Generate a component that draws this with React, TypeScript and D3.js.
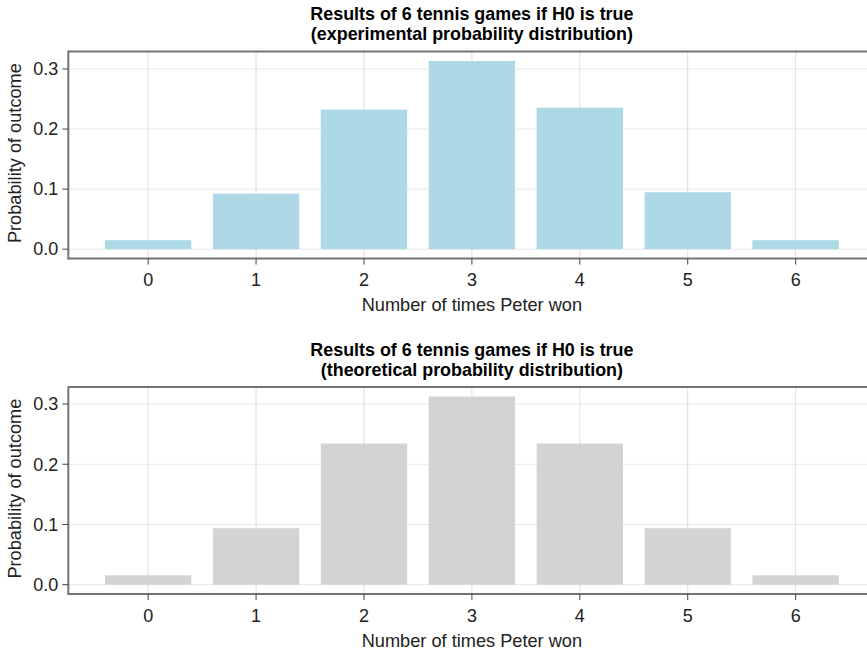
import React from 'react';
import * as d3 from 'd3';

// outcome categories (number of games won)
const outcomes = [0, 1, 2, 3, 4, 5, 6];
// experimental probabilities
const experimental = [0.015, 0.0925, 0.2323, 0.3133, 0.2356, 0.0948, 0.015];
// theoretical binomial(6, 0.5) probabilities
const theoretical = [0.015625, 0.09375, 0.234375, 0.3125, 0.234375, 0.09375, 0.015625];
const yTicks = [0, 0.1, 0.2, 0.3];

const W = 867;
const H = 652;
const FONT = '"Liberation Sans", Arial, Helvetica, sans-serif';

type PanelProps = {
  top: number;
  titleLines: string[];
  values: number[];
  fill: string;
};

function Panel({ top, titleLines, values, fill }: PanelProps) {
  const left = 68.3;
  const right = 875.5;
  const height = 207;
  const bottom = top + height;
  const barWidth = 0.8;

  // Makie-style 5% margins around the bar extents
  const xMin = d3.min(outcomes)! - barWidth / 2;
  const xMax = d3.max(outcomes)! + barWidth / 2;
  const xPad = (xMax - xMin) * 0.05;
  const x = d3.scaleLinear().domain([xMin - xPad, xMax + xPad]).range([left, right]);

  const yMax = d3.max(values)!;
  const y = d3.scaleLinear().domain([-0.05 * yMax, yMax * 1.05]).range([bottom, top]);

  const spine = '#747474';
  const cx = (left + right) / 2;

  return (
    <g>
      {/* title */}
      {titleLines.map((t, i) => (
        <text key={t} x={cx} y={top - 31.6 + i * 20} textAnchor="middle"
          fontFamily={FONT} fontWeight="bold" fontSize={17.9} fill="#000">{t}</text>
      ))}

      {/* grid */}
      {outcomes.map((d) => (
        <line key={'vg' + d} x1={x(d)} x2={x(d)} y1={top} y2={bottom}
          stroke="rgba(0,0,0,0.13)" strokeWidth={1} />
      ))}
      {yTicks.map((t) => (
        <line key={'hg' + t} x1={left} x2={right} y1={y(t)} y2={y(t)}
          stroke="rgba(0,0,0,0.09)" strokeWidth={1} />
      ))}

      {/* bars */}
      {values.map((v, i) => (
        <rect key={i} x={x(outcomes[i] - barWidth / 2)} width={x(barWidth) - x(0)}
          y={y(v)} height={y(0) - y(v)} fill={fill} />
      ))}

      {/* spines */}
      <line x1={left} x2={right} y1={top} y2={top} stroke={spine} strokeWidth={2} />
      <line x1={left} x2={right} y1={bottom} y2={bottom} stroke={spine} strokeWidth={2} />
      <line x1={left} x2={left} y1={top - 1} y2={bottom + 1} stroke={spine} strokeWidth={2} />
      <line x1={right} x2={right} y1={top - 1} y2={bottom + 1} stroke={spine} strokeWidth={2} />

      {/* x ticks */}
      {outcomes.map((d) => (
        <g key={'xt' + d}>
          <line x1={x(d)} x2={x(d)} y1={bottom} y2={bottom + 6} stroke="#444" strokeWidth={1} />
          <text x={x(d)} y={bottom + 27.5} textAnchor="middle" fontFamily={FONT}
            fontSize={18} fill="#222">{d}</text>
        </g>
      ))}
      <text x={cx} y={bottom + 52.5} textAnchor="middle" fontFamily={FONT}
        fontSize={18.2} fill="#222">Number of times Peter won</text>

      {/* y ticks */}
      {yTicks.map((t) => (
        <g key={'yt' + t}>
          <line x1={left - 6} x2={left} y1={y(t)} y2={y(t)} stroke="#444" strokeWidth={1} />
          <text x={left - 10} y={y(t) + 6.3} textAnchor="end" fontFamily={FONT}
            fontSize={18} fill="#222">{d3.format('.1f')(t)}</text>
        </g>
      ))}
      <text transform={`translate(20.5, ${(top + bottom) / 2 - 2}) rotate(-90)`} textAnchor="middle"
        fontFamily={FONT} fontSize={18.2} fill="#222">Probability of outcome</text>
    </g>
  );
}

export default function App() {
  return (
    <svg width={W} height={H} viewBox={`0 0 ${W} ${H}`}
      style={{ position: 'absolute', left: 0, top: 0, background: '#fff' }}>
      <rect width={W} height={H} fill="#fff" />
      <Panel top={51.6} values={experimental} fill="#ADD8E6"
        titleLines={['Results of 6 tennis games if H0 is true', '(experimental probability distribution)']} />
      <Panel top={387.1} values={theoretical} fill="#D3D3D3"
        titleLines={['Results of 6 tennis games if H0 is true', '(theoretical probability distribution)']} />
    </svg>
  );
}
